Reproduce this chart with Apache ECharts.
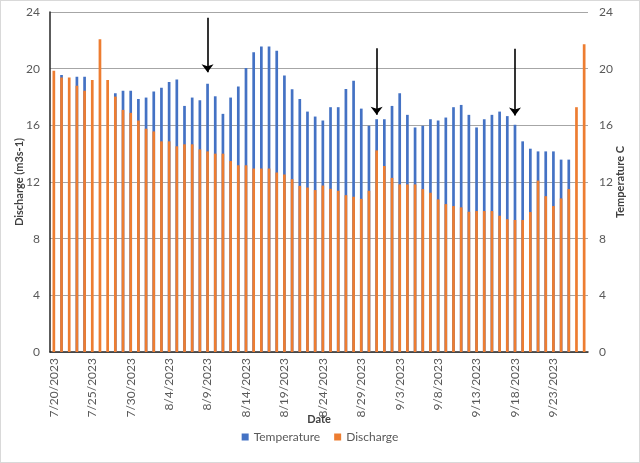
<!DOCTYPE html>
<html>
<head>
<meta charset="utf-8">
<script src="https://cdn.jsdelivr.net/npm/echarts@6/dist/echarts.min.js"></script>
<style>
html,body{margin:0;padding:0;background:#fff;}
#c{width:640px;height:463px;box-sizing:border-box;border:1px solid #d9d9d9;}
</style>
</head>
<body>
<div id="c"></div>
<script>
const dates = ['7/20/2023','7/21/2023','7/22/2023','7/23/2023','7/24/2023','7/25/2023','7/26/2023','7/27/2023','7/28/2023','7/29/2023','7/30/2023','7/31/2023',
'8/1/2023','8/2/2023','8/3/2023','8/4/2023','8/5/2023','8/6/2023','8/7/2023','8/8/2023','8/9/2023','8/10/2023','8/11/2023','8/12/2023','8/13/2023','8/14/2023','8/15/2023','8/16/2023','8/17/2023','8/18/2023','8/19/2023','8/20/2023','8/21/2023','8/22/2023','8/23/2023','8/24/2023','8/25/2023','8/26/2023','8/27/2023','8/28/2023','8/29/2023','8/30/2023','8/31/2023',
'9/1/2023','9/2/2023','9/3/2023','9/4/2023','9/5/2023','9/6/2023','9/7/2023','9/8/2023','9/9/2023','9/10/2023','9/11/2023','9/12/2023','9/13/2023','9/14/2023','9/15/2023','9/16/2023','9/17/2023','9/18/2023','9/19/2023','9/20/2023','9/21/2023','9/22/2023','9/23/2023','9/24/2023','9/25/2023','9/26/2023','9/27/2023'];

const temperature = [null,19.55,null,19.43,19.43,null,null,null,18.26,18.45,
18.45,17.86,17.96,18.38,18.66,19.06,19.24,17.37,17.96,17.77,
18.94,18.05,16.81,17.96,18.75,20.04,21.16,21.56,21.56,21.26,
19.52,18.54,17.86,16.97,16.62,16.34,17.28,17.28,18.57,19.15,
17.18,15.97,16.43,16.43,17.37,18.26,16.74,15.85,15.97,16.43,
16.34,16.55,17.28,17.44,16.74,15.85,16.43,16.74,16.97,16.65,
16.04,14.87,14.35,14.16,14.16,14.16,13.58,13.58,null,null];

const discharge = [19.85,19.38,19.38,18.8,18.45,19.2,22.08,19.2,18.03,17.09,
16.88,16.34,15.76,15.57,14.87,14.87,14.52,14.66,14.66,14.3,
14.16,14.0,14.0,13.48,13.18,13.18,12.95,12.95,12.95,12.67,
12.53,12.2,11.73,11.61,11.43,11.75,11.52,11.38,11.07,10.96,
10.81,11.38,14.23,13.13,12.29,11.83,11.83,11.83,11.5,11.24,
10.77,10.44,10.3,10.21,9.9,9.95,9.95,9.95,9.62,9.37,
9.32,9.32,9.88,12.1,11.0,10.3,10.84,11.5,17.28,21.73];

const yTicks = [0,4,8,12,16,20,24];
const arrowDates = ['8/9/2023','8/31/2023','9/18/2023'];
const arrowFrom = [23.6,21.45,21.4];
const arrowTo = [19.75,16.75,16.7];

const FONT = 'Lato, "Open Sans", sans-serif';
const chart = echarts.init(document.getElementById('c'));
const arrowLines = arrowDates.map((d,i)=>[{coord:[d,arrowFrom[i]]},{coord:[d,arrowTo[i]]}]);

chart.setOption({
  animation:false,
  textStyle:{fontFamily:FONT},
  grid:{left:49,right:51,top:11,bottom:110,containLabel:false},
  legend:{
    bottom:14,left:'center',
    itemWidth:7,itemHeight:7,itemGap:14,icon:'rect',
    textStyle:{color:'#595959',fontSize:12,fontFamily:FONT},
    data:['Temperature','Discharge']
  },
  xAxis:{
    type:'category',data:dates,boundaryGap:true,
    name:'Date',nameLocation:'middle',nameGap:62,nameMoveOverlap:false,
    nameTextStyle:{color:'#404040',fontWeight:'bold',fontSize:11,fontFamily:FONT},
    axisLine:{show:true,lineStyle:{color:'#262626',width:1.5}},
    axisTick:{show:false},
    axisLabel:{rotate:90,interval:4,color:'#595959',fontSize:12,margin:6,fontFamily:FONT}
  },
  yAxis:[{
    type:'value',min:0,max:24,interval:4,position:'left',
    name:'Discharge (m3s-1)',nameLocation:'middle',nameRotate:90,nameGap:25,nameMoveOverlap:false,
    nameTextStyle:{color:'#404040',fontWeight:'bold',fontSize:11,fontFamily:FONT},
    axisLine:{show:true,lineStyle:{color:'#262626',width:1.5}},
    axisTick:{show:false},
    axisLabel:{color:'#595959',fontSize:12,margin:10,fontFamily:FONT,formatter:v=>yTicks.includes(v)?String(v):''},
    splitLine:{show:true,lineStyle:{color:'#a6a6a6',width:1}}
  },{
    type:'value',min:0,max:24,interval:4,position:'right',
    name:'Temperature C',nameLocation:'middle',nameRotate:90,nameGap:27,nameMoveOverlap:false,
    nameTextStyle:{color:'#404040',fontWeight:'bold',fontSize:11,fontFamily:FONT},
    axisLine:{show:false},axisTick:{show:false},
    axisLabel:{color:'#595959',fontSize:12,margin:11,fontFamily:FONT,formatter:v=>yTicks.includes(v)?String(v):''},
    splitLine:{show:false}
  }],
  series:[{
    name:'Temperature',type:'bar',yAxisIndex:1,data:temperature,
    barWidth:2.7,barGap:'-100%',
    itemStyle:{color:'#4472C4'}
  },{
    name:'Discharge',type:'bar',yAxisIndex:0,data:discharge,
    barWidth:2.7,barGap:'-100%',
    itemStyle:{color:'#ED7D31'},
    markLine:{
      silent:true,symbol:['none','arrow'],symbolSize:[9,8],
      label:{show:false},
      lineStyle:{color:'#000',width:1.6,type:'solid'},
      data:arrowLines
    }
  }]
});
</script>
</body>
</html>
